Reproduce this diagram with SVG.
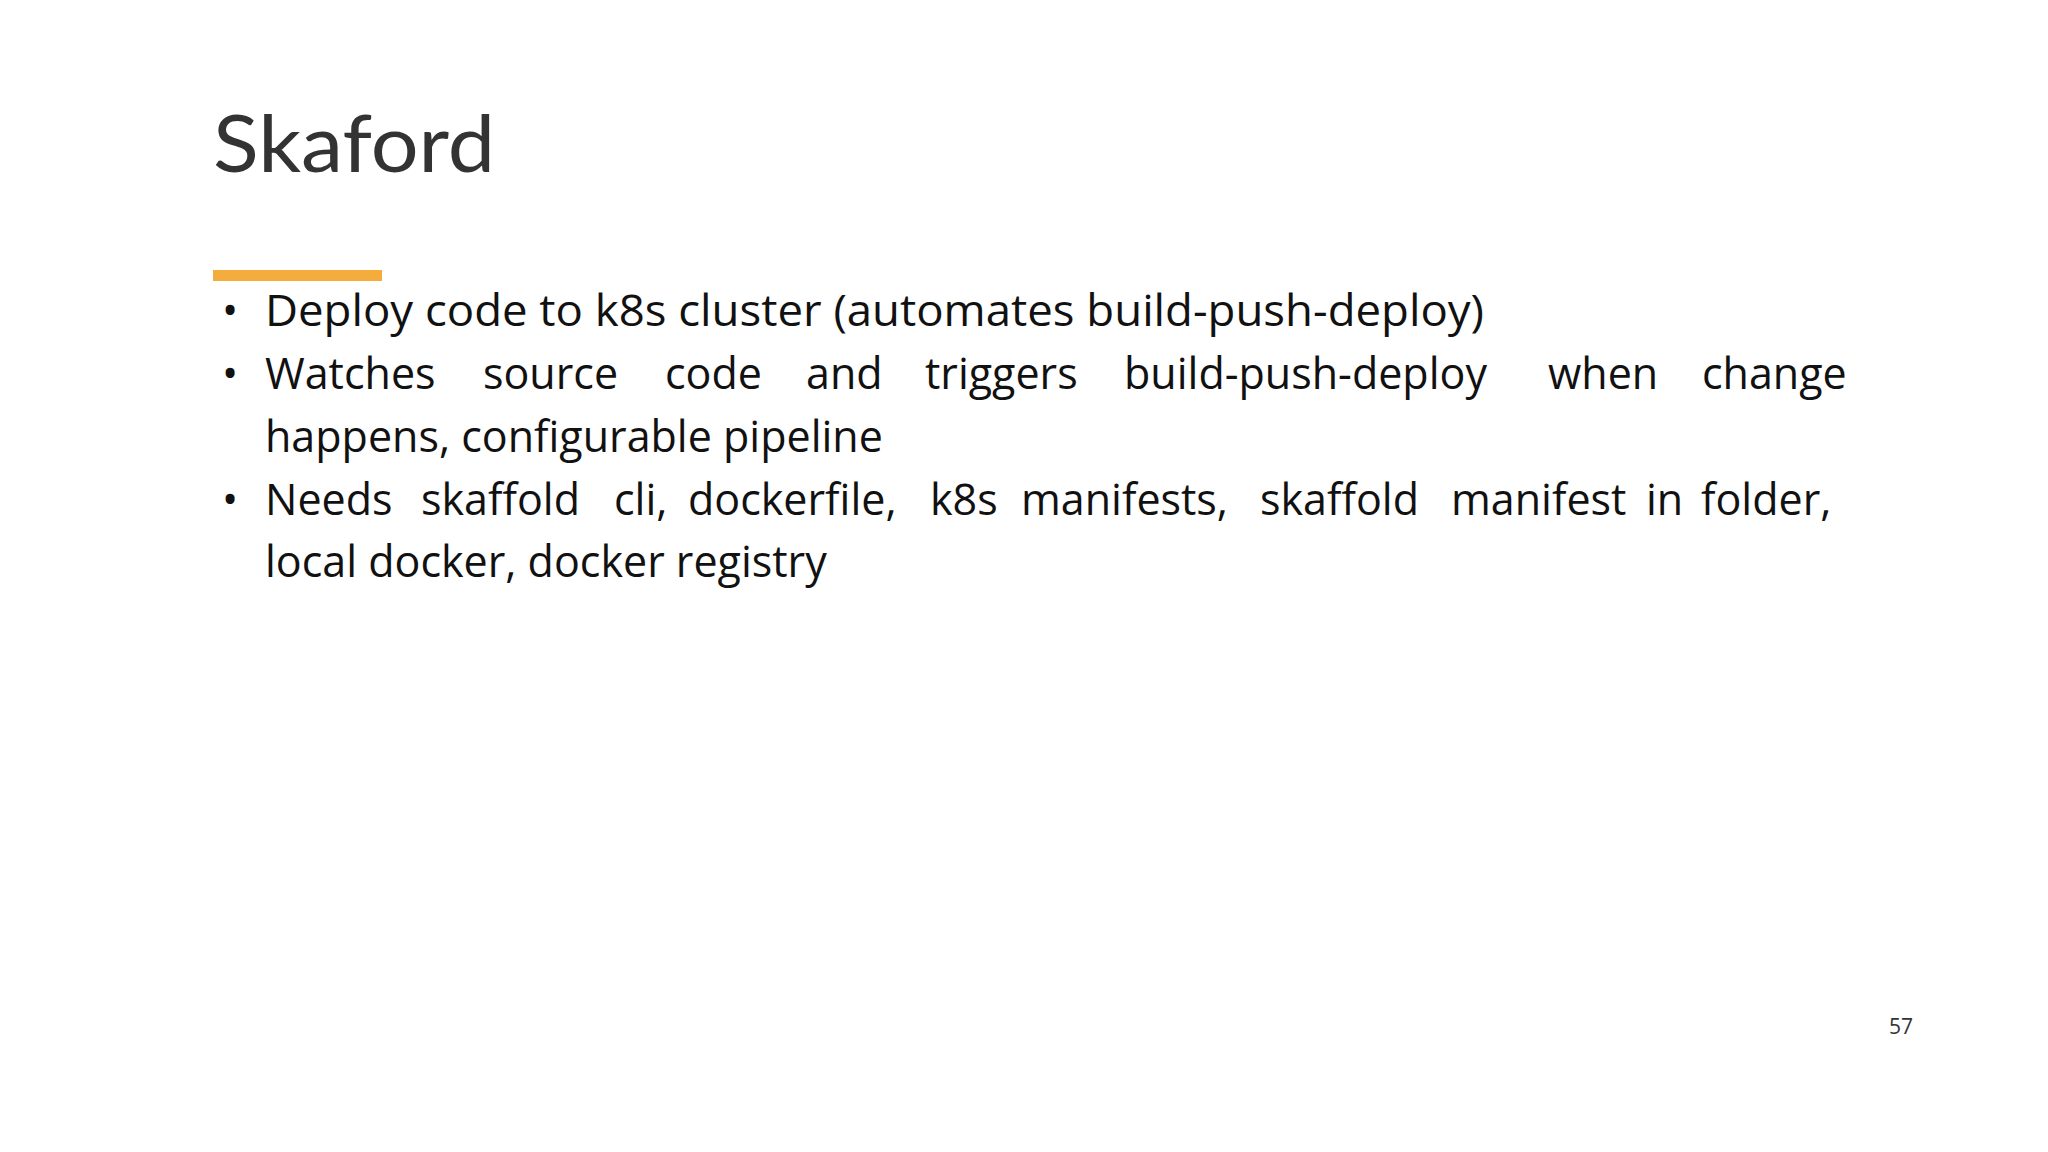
<svg xmlns="http://www.w3.org/2000/svg" width="2048" height="1152" viewBox="0 0 2048 1152">
<style>
.b{font-family:"Open Sans","Noto Sans",sans-serif;font-size:43px;fill:#111}
</style>
<rect width="2048" height="1152" fill="#ffffff"/>
<g id="title"><text x="213" y="172" font-family="Lato,'Open Sans',sans-serif" font-size="80" fill="#333" textLength="282" lengthAdjust="spacingAndGlyphs">Skaford</text></g>
<g id="accent"><rect x="213" y="270" width="169" height="11" fill="#f4ad3d"/></g>
<g id="bullets">
<text class="b" x="222" y="326">•</text>
<text class="b" x="265" y="326" textLength="1219" lengthAdjust="spacingAndGlyphs">Deploy code to k8s cluster (automates build-push-deploy)</text>
<text class="b" x="222" y="389">•</text>
<text class="b" y="389"><tspan x="265">Watches</tspan><tspan x="483">source</tspan><tspan x="665">code</tspan><tspan x="806">and</tspan><tspan x="925">triggers</tspan><tspan x="1124">build-push-deploy</tspan><tspan x="1548">when</tspan><tspan x="1702">change</tspan></text>
<text class="b" x="265" y="452">happens, configurable pipeline</text>
<text class="b" x="222" y="515">•</text>
<text class="b" y="515"><tspan x="265">Needs</tspan><tspan x="421">skaffold</tspan><tspan x="614">cli,</tspan><tspan x="688">dockerfile,</tspan><tspan x="930">k8s</tspan><tspan x="1021">manifests,</tspan><tspan x="1260">skaffold</tspan><tspan x="1451">manifest</tspan><tspan x="1646">in</tspan><tspan x="1701">folder,</tspan></text>
<text class="b" x="265" y="577">local docker, docker registry</text>
</g>
<g id="page"><text x="1889" y="1034" font-family="'Open Sans',sans-serif" font-size="21" fill="#333">57</text></g>
</svg>
